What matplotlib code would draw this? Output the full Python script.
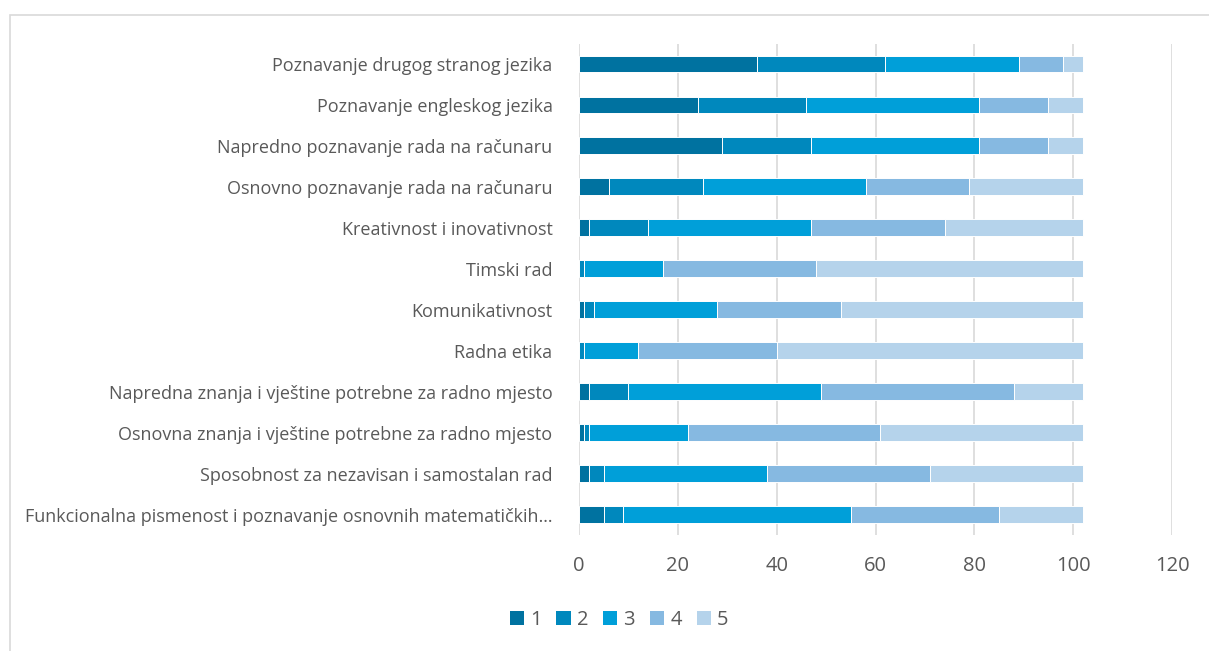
import matplotlib.pyplot as plt
from matplotlib.patches import Patch, Rectangle
import numpy as np

plt.rcParams['font.family'] = ['Open Sans', 'DejaVu Sans']

# categories listed top to bottom
categories = [
    'Poznavanje drugog stranog jezika',
    'Poznavanje engleskog jezika',
    'Napredno poznavanje rada na računaru',
    'Osnovno poznavanje rada na računaru',
    'Kreativnost i inovativnost',
    'Timski rad',
    'Komunikativnost',
    'Radna etika',
    'Napredna znanja i vještine potrebne za radno mjesto',
    'Osnovna znanja i vještine potrebne za radno mjesto',
    'Sposobnost za nezavisan i samostalan rad',
    'Funkcionalna pismenost i poznavanje osnovnih matematičkih…',
]

grade_labels = ['1', '2', '3', '4', '5']
grade_1 = [36, 24, 29, 6, 2, 0, 1, 0, 2, 1, 2, 5]
grade_2 = [26, 22, 18, 19, 12, 1, 2, 1, 8, 1, 3, 4]
grade_3 = [27, 35, 34, 33, 33, 16, 25, 11, 39, 20, 33, 46]
grade_4 = [9, 14, 14, 21, 27, 31, 25, 28, 39, 39, 33, 30]
grade_5 = [4, 7, 7, 23, 28, 54, 49, 62, 14, 41, 31, 17]

colors = ['#0072A0', '#0088BD', '#009FD9', '#86B9E1', '#B5D3EB']
text_color = '#595959'
grid_color = '#D9D9D9'

fig = plt.figure(figsize=(12.09, 6.51), dpi=100)
ax = fig.add_axes([579 / 1209, 1 - 535 / 651, (1172 - 579) / 1209, (535 - 43.5) / 651])

y = np.arange(len(categories))
left = np.zeros(len(categories))
for vals, col, lab in zip([grade_1, grade_2, grade_3, grade_4, grade_5], colors, grade_labels):
    ax.barh(y, vals, left=left, height=0.41, color=col, edgecolor='white',
            linewidth=0.7, label=lab, zorder=3)
    left += np.array(vals)

ax.set_ylim(len(categories) - 0.5, -0.5)
ax.set_xlim(0, 120)
ax.set_xticks(np.arange(0, 121, 20))
ax.set_yticks(y)
ax.set_yticklabels(categories, fontsize=13, color=text_color)
ax.tick_params(axis='x', labelsize=14.5, colors=text_color, length=0, pad=15)
ax.tick_params(axis='y', length=0, pad=19)
ax.xaxis.grid(True, color=grid_color, linewidth=1.2, zorder=0)
for s in ax.spines.values():
    s.set_visible(False)

handles = [Patch(facecolor=c, edgecolor='none') for c in colors]
fig.legend(handles, grade_labels, loc='center', ncol=5, frameon=False,
           bbox_to_anchor=(619 / 1209, 1 - 620 / 651), fontsize=14.5,
           labelcolor=text_color, handlelength=0.7, handleheight=0.7,
           handletextpad=0.3, columnspacing=0.75)

# outer chart border
fig.patches.append(Rectangle((10 / 1209, -0.1), 1.2, (651 - 15) / 651 + 0.1,
                             transform=fig.transFigure, fill=False,
                             edgecolor=grid_color, linewidth=1.2))

fig.savefig('out.png', dpi=100)
